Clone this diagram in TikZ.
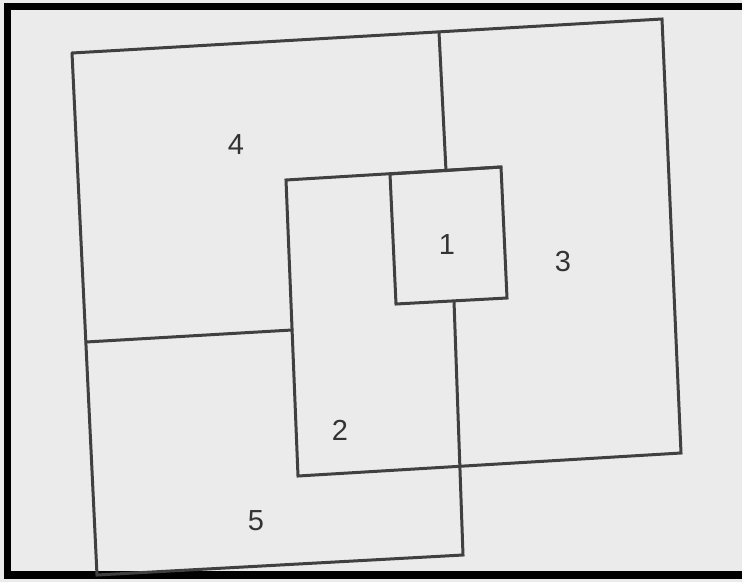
\documentclass[tikz,border=0pt]{standalone}
\usepackage{fontspec}
\setmainfont{Liberation Sans}
\begin{document}
\begin{tikzpicture}[x=1pt,y=-1pt,
  edge/.style={draw=black!75, line width=3pt, line join=miter, line cap=round},
  lbl/.style={text=black!80, font=\fontsize{29}{31}\selectfont, inner sep=0pt}]
\fill[black!8] (0,0) rectangle (742,582);
\useasboundingbox (0,0) rectangle (742,582);
% black scan frame
\fill[black] (4,3) rectangle (742,10);
\fill[black] (4,3) rectangle (11,579);
\fill[black] (4,571) rectangle (742,579);
% corners
\coordinate (A) at (72,53);
\coordinate (B) at (439,32);
\coordinate (C) at (662,19);
\coordinate (D) at (681,453);
\coordinate (E) at (298,476);
\coordinate (F) at (286,180);
\coordinate (G) at (390,174);
\coordinate (H) at (446,171);
\coordinate (I) at (501,167);
\coordinate (J) at (507,298);
\coordinate (K) at (396,304);
\coordinate (L) at (454,301);
\coordinate (N) at (463,555);
\coordinate (O) at (97,575);
\coordinate (P) at (86,342);
\coordinate (Q) at (292,330);
% outline of 4 and 3, box 2
\draw[edge] (A) -- (C) -- (D) -- (E) -- (F) -- (I);
% box 1
\draw[edge] (G) -- (I) -- (J) -- (K) -- cycle;
% divider between 4 and 3
\draw[edge] (B) -- (H);
% box 5 and left edge
\draw[edge] (L) -- (N) -- (O) -- (A);
% divider between 4 and 5
\draw[edge] (P) -- (Q);
% labels
\node[lbl] (l4) at (236,145) {4};
\node[lbl] (l1) at (447,245) {1};
\node[lbl] (l3) at (563,262) {3};
\node[lbl] (l2) at (340,430) {2};
\node[lbl] (l5) at (256,521) {5};
\end{tikzpicture}
\end{document}
